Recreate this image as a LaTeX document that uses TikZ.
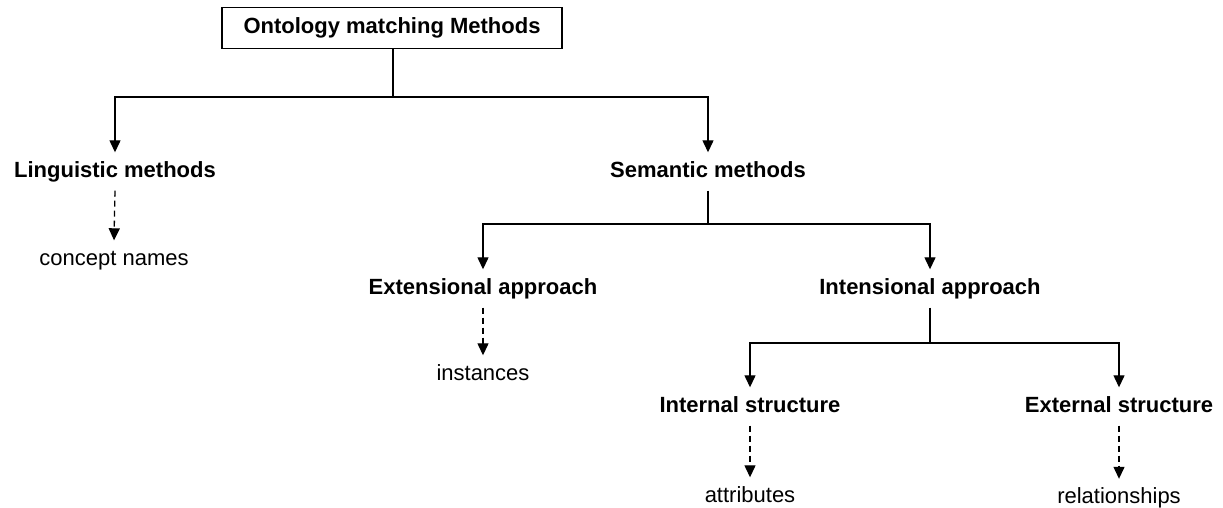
\documentclass[tikz,border=0pt]{standalone}
\usepackage{fontspec}
\setmainfont{Liberation Sans}
\usetikzlibrary{arrows.meta}
\begin{document}
\begin{tikzpicture}[x=1pt,y=-1pt,
  lbl/.style={inner xsep=0pt,inner ysep=9pt,outer sep=0pt,font=\fontsize{22}{26}\selectfont,text height=15.8pt,text depth=4.6pt},
  head/.style={lbl,font=\fontsize{22}{26}\selectfont\bfseries},
  topbox/.style={draw,line width=1.3pt,minimum width=340pt,minimum height=41pt,inner sep=0pt,font=\fontsize{22}{26}\selectfont\bfseries},
  link/.style={line width=1.3pt},
  arr/.style={line width=1.3pt,-{Triangle[width=11pt,length=12pt]}},
  darr/.style={arr,dash pattern=on 6pt off 4pt}]
\useasboundingbox (0,0) rectangle (1223,508);
\node[topbox] (top) at (392,28) {Ontology matching Methods};
\node[head] (ling) at (115,171.5) {Linguistic methods};
\node[head] (sem) at (708,171.5) {Semantic methods};
\node[lbl] (cn) at (114,259.5) {concept names};
\node[head] (ext) at (483,288.5) {Extensional approach};
\node[head] (int) at (930,288.5) {Intensional approach};
\node[lbl] (inst) at (483,374.5) {instances};
\node[head] (ist) at (750,406.5) {Internal structure};
\node[head] (est) at (1119,406.5) {External structure};
\node[lbl] (attr) at (750,496.5) {attributes};
\node[lbl] (rel) at (1119,498) {relationships};
\coordinate (j1) at (393,97);
\coordinate (j2) at (708,224);
\coordinate (j3) at (930,343);
\draw[link] (top.south -| j1) -- (j1);
\draw[arr] (j1) -| (ling.north);
\draw[arr] (j1) -| (sem.north);
\draw[darr] (ling.south) -- (cn.north);
\draw[link] (sem.south) -- (j2);
\draw[arr] (j2) -| (ext.north);
\draw[arr] (j2) -| (int.north);
\draw[darr] (ext.south) -- (inst.north);
\draw[link] (int.south) -- (j3);
\draw[arr] (j3) -| (ist.north);
\draw[arr] (j3) -| (est.north);
\draw[darr] (ist.south) -- (attr.north);
\draw[darr] (est.south) -- (rel.north);
\end{tikzpicture}
\end{document}
